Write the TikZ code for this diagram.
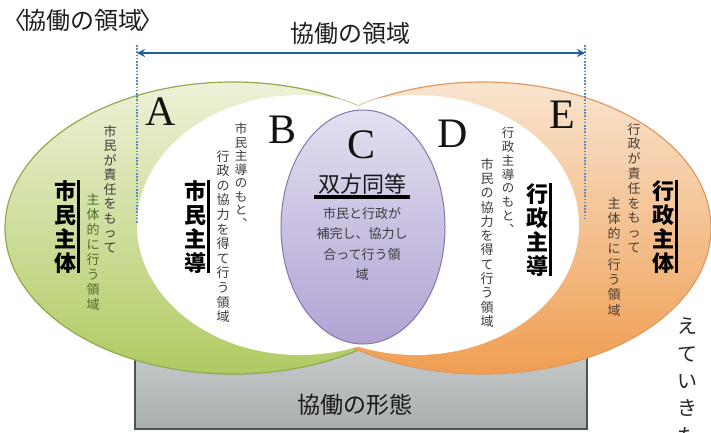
\documentclass[tikz,border=0pt]{standalone}
\usepackage{fontspec}
\setmainfont{Liberation Serif}
\newfontfamily\jp{Noto Sans CJK JP}
\usetikzlibrary{arrows.meta,calc}
\definecolor{grnTop}{HTML}{EEF1D8}
\definecolor{grnBot}{HTML}{AFCB62}
\definecolor{grnEdge}{HTML}{93A94E}
\definecolor{orTop}{HTML}{F9E4CF}
\definecolor{orBot}{HTML}{EF9E52}
\definecolor{orEdge}{HTML}{DE9A62}
\definecolor{purTop}{HTML}{E4DFF0}
\definecolor{purBot}{HTML}{B0A3D4}
\definecolor{purEdge}{HTML}{8576AE}
\definecolor{grayTop}{HTML}{CDD1D1}
\definecolor{grayBot}{HTML}{A9AEAE}
\definecolor{grayEdge}{HTML}{4B5353}
\definecolor{arrowBlue}{HTML}{1F5F9C}
\definecolor{dotBlue}{HTML}{5A8CC6}
\definecolor{smallGray}{HTML}{3C3C3C}
\definecolor{smallGreen}{HTML}{4F6B2C}
\definecolor{smallBrown}{HTML}{4A3C32}
\def\vtEND{\vtEND}
\def\vtA#1{\ifx#1\vtEND\else\hbox to 1.1em{\hss#1\hss}\expandafter\vtA\fi}
\newcommand\vcol[2]{\vbox{\baselineskip=#1\lineskiplimit=-100pt\lineskip=0pt\vtA#2\vtEND}}
\begin{document}
\begin{tikzpicture}[x=1pt,y=-1pt,
  jpsmall/.style={font=\jp\fontsize{13}{14}\selectfont, inner sep=0pt, anchor=north, text=smallGray},
  jpbig/.style={font=\jp\bfseries\fontsize{22}{24}\selectfont, inner sep=0pt, anchor=north, text=black},
  rulebar/.style={line width=3pt, black},
  letter/.style={font=\fontsize{42}{42}\selectfont, inner sep=0pt, text=black!92},
  dotline/.style={draw=dotBlue, line width=1.3pt, dash pattern=on 1.6pt off 1.6pt},
  heading/.style={font=\jp\fontsize{24}{26}\selectfont, inner sep=0pt, text=black!88},
]
\useasboundingbox (0,0) rectangle (711,432);
% base rectangle
\shade[top color=grayTop, bottom color=grayBot, draw=grayEdge, line width=2pt] (135,330) rectangle (587,429);
% outer ellipses
\shade[top color=grnTop, bottom color=grnBot, draw=grnEdge, line width=1.2pt] (233,228) ellipse [x radius=228pt, y radius=146pt];
\shade[top color=orTop, bottom color=orBot, draw=orEdge, line width=1.2pt] (483,228) ellipse [x radius=228pt, y radius=146pt];
% inner white ellipses
\begin{scope}
  \clip (233,228) ellipse [x radius=228pt, y radius=146pt];
  \fill[white] (300,225) ellipse [x radius=163pt, y radius=130pt];
\end{scope}
\begin{scope}
  \clip (483,228) ellipse [x radius=228pt, y radius=146pt];
  \fill[white] (416,225) ellipse [x radius=163pt, y radius=130pt];
\end{scope}
% central ellipse
\shade[top color=purTop, bottom color=purBot, draw=purEdge, line width=1pt] (363,227) ellipse [x radius=82pt, y radius=117pt];

% headings
\node[heading, anchor=west] (title) at (2,20) {〈\kern-0.15em協働の領域\kern-0.15em〉};
\node[heading] (span) at (350,33) {協働の領域};
\node[heading, font=\jp\fontsize{23}{25}\selectfont, text=black!90] (form) at (355,405) {協働の形態};

% span arrow and dotted limits
\coordinate (ltop) at (137,45);
\coordinate (lbot) at (137,224);
\coordinate (rtop) at (585,45);
\coordinate (rbot) at (585,221);
\coordinate (la) at (137,53);
\coordinate (ra) at (585,53);
\draw[dotline] (ltop) -- (lbot);
\draw[dotline] (rtop) -- (rbot);
\draw[arrowBlue, line width=2.6pt, {Stealth[length=8pt,width=8pt]}-{Stealth[length=8pt,width=8pt]}] (la) -- (ra);

% letters
\node[letter] (A) at (161,112) {A};
\node[letter] (B) at (283,130) {B};
\node[letter] (C) at (362,145) {C};
\node[letter] (D) at (453,134) {D};
\node[letter] (E) at (562,115) {E};

% region A
\node[jpbig] (a0) at (65,180) {\vcol{24pt}{市民主体}};
\draw[rulebar] ([xshift=1pt]a0.north east) -- ([xshift=1pt]a0.south east);
\node[jpsmall] (a1) at (110,125) {\vcol{14.5pt}{市民が責任をもって}};
\node[jpsmall, text=smallGreen] (a2) at (93,193) {\vcol{15pt}{主体的に行う領域}};

% region B
\node[jpbig] (b0) at (195,180) {\vcol{24pt}{市民主導}};
\draw[rulebar] ([xshift=1pt]b0.north east) -- ([xshift=1pt]b0.south east);
\node[jpsmall, font=\jp\fontsize{12.5}{14}\selectfont] (b1) at (241,123) {\vcol{13.5pt}{市民主導のもと︑}};
\node[jpsmall] (b2) at (223,150) {\vcol{14.6pt}{行政の協力を得て行う領域}};

% region C
\node[font=\jp\fontsize{22}{24}\selectfont, inner sep=0pt, text=black!90] (c0) at (362,184) {双方同等};
\draw[line width=4pt, black] ($(c0.south west)+(-4,3)$) -- ($(c0.south east)+(4,3)$);
\node[font=\jp\fontsize{13}{20.5}\selectfont, align=center, inner sep=0pt, text=smallGray] (c1) at (362,244) {市民と行政が\\補完し、協力し\\合って行う領\\域};

% region D
\node[jpbig] (d0) at (537,183) {\vcol{24pt}{行政主導}};
\draw[rulebar] ([xshift=1pt]d0.north east) -- ([xshift=1pt]d0.south east);
\node[jpsmall, font=\jp\fontsize{12.5}{14}\selectfont] (d1) at (508,127) {\vcol{13.8pt}{行政主導のもと︑}};
\node[jpsmall] (d2) at (487,158) {\vcol{14.3pt}{市民の協力を得て行う領域}};

% region E
\node[jpbig] (e0) at (663,180) {\vcol{24pt}{行政主体}};
\draw[rulebar] ([xshift=1pt]e0.north east) -- ([xshift=1pt]e0.south east);
\node[jpsmall, text=smallBrown] (e1) at (634,123) {\vcol{14.8pt}{行政が責任をもって}};
\node[jpsmall, text=smallBrown] (e2) at (614,197) {\vcol{15.3pt}{主体的に行う領域}};

% page text at right edge
\node[jpsmall, font=\jp\fontsize{20}{22}\selectfont, text=black!85] (side) at (687,318) {\vcol{27.3pt}{えていきた}};
\end{tikzpicture}
\end{document}
